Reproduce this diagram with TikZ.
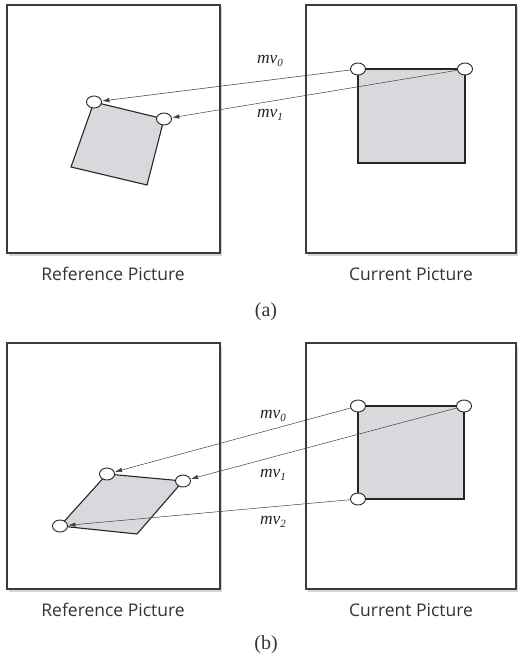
\documentclass[tikz,border=0pt]{standalone}
\usepackage{fontspec}
\setmainfont{Liberation Serif}
\newfontfamily\capfont{Open Sans}
\usetikzlibrary{shapes.geometric,arrows.meta}
\definecolor{shapegray}{RGB}{216,217,220}
\definecolor{framecol}{RGB}{60,60,60}
\tikzset{
  frame/.style={draw=framecol,line width=1.4pt,fill=white},
  shadowbox/.style={fill=black!16},
  quadbox/.style={draw=black!85,line width=1.1pt,fill=shapegray},
  vtx/.style={ellipse,draw=black!85,fill=white,line width=0.9pt,minimum width=15pt,minimum height=12pt,inner sep=0pt},
  mv/.style={->,>={Latex[length=7pt,width=4.5pt]},draw=black!75,line width=0.5pt,shorten >=0.5pt},
  mvlabel/.style={font=\fontsize{17.5}{20}\selectfont\itshape,text=black!85,inner sep=0pt},
  caption/.style={font=\capfont\fontsize{17.5}{20}\selectfont,text=black!80,inner sep=0pt},
  sublabel/.style={font=\fontsize{20}{23}\selectfont,text=black!80,inner sep=0pt}
}
\newcommand{\mvsub}[1]{\textit{mv}\raisebox{-3.5pt}{\fontsize{11}{13}\selectfont\textit{#1}}}
\begin{document}
\begin{tikzpicture}[x=1pt,y=-1pt]
\useasboundingbox (0,0) rectangle (517,660);
% ---------------- (a) ----------------
\fill[shadowbox] (9,7.5) rectangle (222,255.5);
\fill[shadowbox] (308,7.5) rectangle (519,255.5);
\draw[frame] (7,5) rectangle (220,253);
\draw[frame] (306,5) rectangle (516,253);
\draw[quadbox] (94,102) -- (164,119) -- (147,185) -- (71,167) -- cycle;
\draw[quadbox] (358,69) rectangle (465,163);
\node[vtx] (ar0) at (94,102) {};
\node[vtx] (ar1) at (164,119) {};
\node[vtx] (ac0) at (358,69) {};
\node[vtx] (ac1) at (465,69) {};
\draw[mv] (ac0) -- (ar0);
\draw[mv] (ac1) -- (ar1);
\node[mvlabel] (amv0) at (270,61) {\mvsub{0}};
\node[mvlabel] (amv1) at (270,115) {\mvsub{1}};
\node[caption] (aref) at (113,274) {Reference Picture};
\node[caption] (acur) at (411,274) {Current Picture};
\node[sublabel] (alab) at (266,312) {(a)};
% ---------------- (b) ----------------
\fill[shadowbox] (9,345.5) rectangle (222,591.5);
\fill[shadowbox] (308,345.5) rectangle (519,591.5);
\draw[frame] (7,343) rectangle (220,589);
\draw[frame] (306,343) rectangle (516,589);
\draw[quadbox] (107,474) -- (183,481) -- (137,534) -- (60,526) -- cycle;
\draw[quadbox] (358,406) rectangle (464,499);
\node[vtx] (br0) at (107,474) {};
\node[vtx] (br1) at (183,481) {};
\node[vtx] (br2) at (60,526) {};
\node[vtx] (bc0) at (358,406) {};
\node[vtx] (bc1) at (464,406) {};
\node[vtx] (bc2) at (358,499) {};
\draw[mv] (bc0) -- (br0);
\draw[mv] (bc1) -- (br1);
\draw[mv] (bc2) -- (br2);
\node[mvlabel] (bmv0) at (273,416) {\mvsub{0}};
\node[mvlabel] (bmv1) at (273,475) {\mvsub{1}};
\node[mvlabel] (bmv2) at (273,522) {\mvsub{2}};
\node[caption] (bref) at (113,610) {Reference Picture};
\node[caption] (bcur) at (411,610) {Current Picture};
\node[sublabel] (blab) at (266,645) {(b)};
\end{tikzpicture}
\end{document}
